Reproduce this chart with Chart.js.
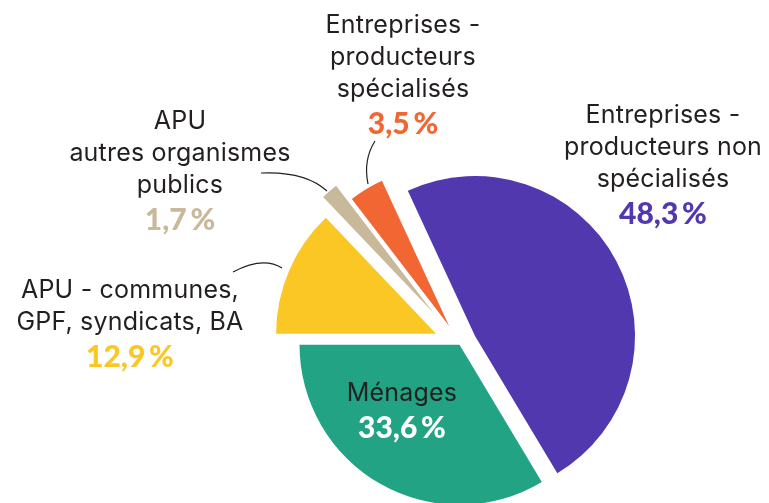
<!DOCTYPE html>
<html lang="fr">
<head>
<meta charset="utf-8">
<script src="https://cdn.jsdelivr.net/npm/chart.js@4"></script>
<style>
  body { margin: 0; background: #fff; }
  #cadre { position: relative; width: 769px; height: 503px; overflow: hidden; font-family: Inter, "Noto Sans", sans-serif; color: #231f20; }
  #cadre canvas { position: absolute; left: 0; top: 0; }
  .etiquette { position: absolute; transform: translateX(-50%); text-align: center; white-space: nowrap; font-size: 25px; line-height: 32px; letter-spacing: 0.2px; }
  .pct { font-family: Lato, Inter, sans-serif; font-weight: 900; font-size: 30px; line-height: 36px; letter-spacing: 0; }
</style>
</head>
<body>
<div id="cadre">
  <canvas id="camembert" width="769" height="503"></canvas>
</div>
<script>
// Données (ordre horaire à partir du violet)
const categories = [
  "Entreprises -\nproducteurs non\nspécialisés",
  "Ménages",
  "APU - communes,\nGPF, syndicats, BA",
  "APU\nautres organismes\npublics",
  "Entreprises -\nproducteurs\nspécialisés"
];
const valeurs = [48.3, 33.6, 12.9, 1.7, 3.5];
const couleurs = ["#5238ae", "#21a384", "#fbc724", "#c8b99b", "#f26634"];

// Mise en page des étiquettes (centre x, haut y) et décalage des parts
const positions = [[663, 98], [402, 376], [130, 273], [180, 104], [403, 8]];
const decalages = [17, 1, 26, 41, 21];

const cadre = document.getElementById("cadre");

function formatPct(v) {
  return v.toLocaleString("fr-FR", {minimumFractionDigits: 1}) + "\u2009%";
}

// Etiquettes en HTML
categories.forEach((c, i) => {
  const div = document.createElement("div");
  div.className = "etiquette";
  div.style.left = positions[i][0] + "px";
  div.style.top = positions[i][1] + "px";
  const interieur = i === 1;
  div.innerHTML = c.split("\n").join("<br>") +
    `<div class="pct" style="color:${interieur ? "#fff" : couleurs[i]}">${formatPct(valeurs[i])}</div>`;
  cadre.appendChild(div);
});

// Parts éclatées : on déplace chaque arc le long de sa bissectrice
const pluginEclate = {
  id: "eclate",
  afterDatasetUpdate(chart, args) {
    args.meta.data.forEach((arc, i) => {
      const milieu = (arc.startAngle + arc.endAngle) / 2;
      arc.x += Math.cos(milieu) * decalages[i];
      arc.y += Math.sin(milieu) * decalages[i];
    });
  }
};

// Traits de rappel
const pluginTraits = {
  id: "traits",
  afterDraw(chart) {
    const ctx = chart.ctx;
    ctx.save();
    ctx.strokeStyle = "#231f20";
    ctx.lineWidth = 1.2;
    ctx.beginPath();
    ctx.moveTo(375, 141); ctx.quadraticCurveTo(363, 160, 368, 184);
    ctx.moveTo(261, 173); ctx.quadraticCurveTo(305, 171, 327, 191);
    ctx.moveTo(233, 272); ctx.quadraticCurveTo(263, 256, 282, 268);
    ctx.stroke();
    ctx.restore();
  }
};

new Chart(document.getElementById("camembert"), {
  type: "pie",
  data: {
    labels: categories,
    datasets: [{
      data: valeurs,
      backgroundColor: couleurs,
      borderWidth: 0,
      radius: 160,
      clip: false
    }]
  },
  options: {
    responsive: false,
    animation: false,
    rotation: 270 - 3.6 * (valeurs[0] + valeurs[1]),
    layout: { padding: { left: 300, right: 149, top: 185, bottom: 0 } },
    plugins: { legend: { display: false }, tooltip: { enabled: false } }
  },
  plugins: [pluginEclate, pluginTraits]
});
</script>
</body>
</html>
